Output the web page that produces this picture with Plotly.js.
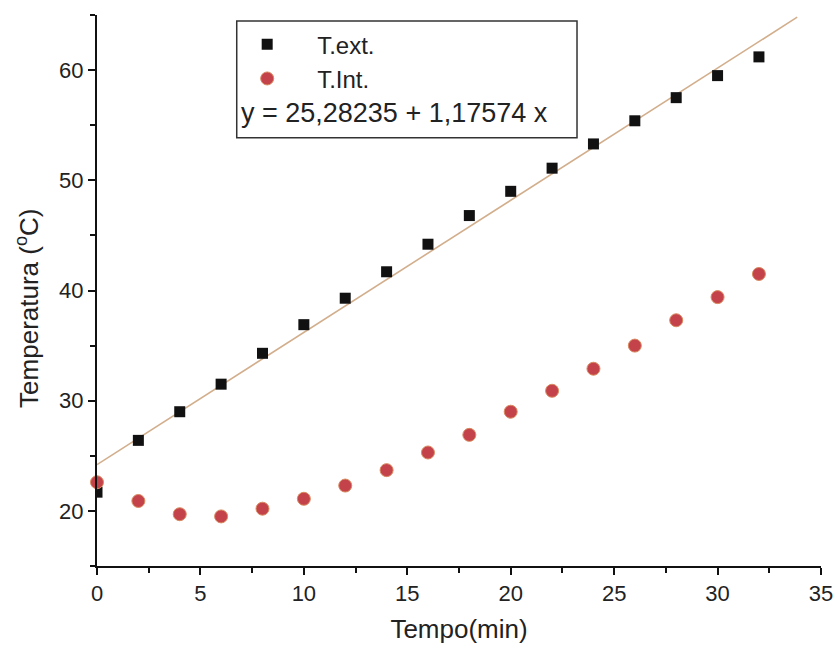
<!DOCTYPE html>
<html>
<head>
<meta charset="utf-8">
<script src="https://cdn.plot.ly/plotly-3.0.1.min.js"></script>
<style>html,body{margin:0;padding:0;background:#fff;}#chart{width:835px;height:653px;}</style>
</head>
<body>
<div id="chart"></div>
<script>
// Data
const tempo = [0, 2, 4, 6, 8, 10, 12, 14, 16, 18, 20, 22, 24, 26, 28, 30, 32];
const tExt  = [21.7, 26.4, 29.0, 31.5, 34.3, 36.9, 39.3, 41.7, 44.2, 46.8, 49.0, 51.1, 53.3, 55.4, 57.5, 59.5, 61.2];
const tInt  = [22.6, 20.9, 19.7, 19.5, 20.2, 21.1, 22.3, 23.7, 25.3, 26.9, 29.0, 30.9, 32.9, 35.0, 37.3, 39.4, 41.5];
// fitted line as drawn
const fitX = [0, 33.85];
const fitY = [24.2, 64.8];
const fitLabel = 'y = 25,28235 + 1,17574 x';
const xTicks = [0, 5, 10, 15, 20, 25, 30, 35];
const yTicks = [20, 30, 40, 50, 60];

const font = 'Liberation Sans, Arial, sans-serif';

const traces = [
  {x: fitX, y: fitY, mode: 'lines', type: 'scatter', showlegend: false,
   line: {color: '#d2ae8c', width: 1.6}, hoverinfo: 'skip'},
  {x: tempo, y: tExt, mode: 'markers', type: 'scatter', name: 'T.ext.',
   legendgroup: 'a', cliponaxis: true,
   marker: {symbol: 'square', size: 11, color: '#111111', line: {width: 0}}},
  {x: tempo, y: tInt, mode: 'markers', type: 'scatter', name: 'T.Int.',
   legendgroup: 'b', cliponaxis: false,
   marker: {symbol: 'circle', size: 13, color: '#c4434a', line: {color: '#d98a60', width: 1}}}
];

const axisCommon = {
  showline: true, linecolor: '#111', linewidth: 2, mirror: false,
  ticks: 'outside', ticklen: 7, tickwidth: 2, tickcolor: '#111',
  showgrid: false, zeroline: false,
  tickfont: {family: font, size: 22, color: '#222'}
};

const layout = {
  width: 835, height: 653,
  margin: {l: 97, r: 14, t: 15, b: 87},
  paper_bgcolor: '#fff', plot_bgcolor: '#fff',
  font: {family: font, color: '#222'},
  xaxis: Object.assign({}, axisCommon, {
    range: [0, 35], tickvals: xTicks, ticktext: xTicks.map(String),
    minor: {dtick: 2.5, tick0: 0, ticks: 'outside', ticklen: 5, tickwidth: 2, tickcolor: '#111'},
    title: {text: 'Tempo(min)', font: {family: font, size: 26, color: '#222'}, standoff: 14}
  }),
  yaxis: Object.assign({}, axisCommon, {
    range: [15, 65], tickvals: yTicks, ticktext: yTicks.map(String),
    minor: {dtick: 5, tick0: 15, ticks: 'outside', ticklen: 5, tickwidth: 2, tickcolor: '#111'}
  }),
  showlegend: true,
  legend: {
    x: 0.166, y: 0.987, xanchor: 'left', yanchor: 'top',
    bgcolor: 'rgba(0,0,0,0)', borderwidth: 0,
    font: {family: font, size: 24, color: '#222'},
    traceorder: 'grouped', tracegroupgap: 0, itemwidth: 90
  },
  shapes: [{type: 'rect', xref: 'paper', yref: 'paper',
    x0: 0.193, x1: 0.663, y0: 0.777, y1: 0.989,
    line: {color: '#333', width: 1.5}, fillcolor: 'rgba(0,0,0,0)'}],
  annotations: [
    {xref: 'paper', yref: 'paper', x: 0.196, y: 0.823,
     xanchor: 'left', yanchor: 'middle', showarrow: false, text: fitLabel,
     font: {family: font, size: 27, color: '#222'}},
    {xref: 'paper', yref: 'paper', x: -0.097, y: 0.468,
     xanchor: 'center', yanchor: 'middle', showarrow: false, textangle: -90,
     text: 'Temperatura (<sup>o</sup>C)',
     font: {family: font, size: 26, color: '#222'}}
  ]
};

Plotly.newPlot('chart', traces, layout, {displayModeBar: false, staticPlot: true});
</script>
</body>
</html>
